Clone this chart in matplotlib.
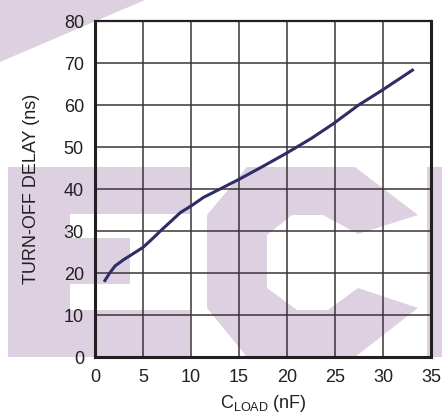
import numpy as np
import matplotlib
matplotlib.use('Agg')
import matplotlib.pyplot as plt
from matplotlib.patches import Polygon

#%% Data
c_load = [0.95, 1.5, 2.1, 3.0, 3.7, 5.0, 6.0, 7.0, 8.0, 8.9, 10.1, 11.3, 13.2, 15.0,
          17.5, 20.0, 22.5, 24.8, 27.4, 29.9, 33.2]
delay = [17.9, 19.9, 21.7, 23.2, 24.2, 26.1, 28.2, 30.4, 32.5, 34.4, 36.1, 38.0, 40.2, 42.3,
         45.4, 48.6, 52.0, 55.5, 59.9, 63.5, 68.5]
x_ticks = [0, 5, 10, 15, 20, 25, 30, 35]
y_ticks = [0, 10, 20, 30, 40, 50, 60, 70, 80]

plt.rcParams['font.family'] = ['Liberation Sans', 'DejaVu Sans']
txt = '#231F20'
wm = '#DDD0E0'

fig = plt.figure(figsize=(4.42, 4.17), dpi=100)

#%% Watermark in a background axes (pixel coords, y from top)
bg = fig.add_axes([0, 0, 1, 1], zorder=0)
bg.set_xlim(0, 442)
bg.set_ylim(417, 0)
bg.axis('off')

shapes = [
    [(0, 0), (145, 0), (0, 62)],
    [(8, 167), (190, 167), (190, 214), (70, 214), (70, 238), (130, 238), (130, 284),
     (70, 284), (70, 310), (190, 310), (190, 357), (8, 357)],
    [(207, 215), (247, 167), (355, 167), (418, 215), (358, 234), (323, 215), (292, 215),
     (267, 235), (267, 288), (297, 310), (328, 310), (358, 288), (418, 308), (355, 357),
     (247, 357), (207, 308)],
    [(427, 167), (442, 167), (442, 357), (427, 357)],
]
for s in shapes:
    bg.add_patch(Polygon(s, closed=True, facecolor=wm, edgecolor='none'))

#%% Plot
ax = fig.add_axes([95 / 442, 1 - 357 / 417, 336 / 442, 336 / 417], zorder=1)
ax.patch.set_alpha(0)
ax.plot(c_load, delay, color='#2E2D66', lw=2.2, solid_capstyle='butt', zorder=3)

ax.set_xlim(0, 35)
ax.set_ylim(0, 80)
ax.set_xticks(x_ticks)
ax.set_yticks(y_ticks)
ax.grid(True, color='#3A3436', lw=1.1)
ax.tick_params(length=0, labelsize=13, labelcolor=txt, pad=8)
ax.tick_params(axis='x', pad=9)
for side in ['left', 'bottom', 'right']:
    ax.spines[side].set_linewidth(2.2)
    ax.spines[side].set_color('#231F20')
ax.spines['top'].set_linewidth(1.6)
ax.spines['top'].set_color('#231F20')

ax.set_xlabel('C$_{\\mathregular{LOAD}}$ (nF)', fontsize=13, color=txt, labelpad=5)
ax.set_ylabel('TURN-OFF DELAY (ns)', fontsize=13, color=txt, labelpad=17)

fig.savefig('out.png', dpi=100)
